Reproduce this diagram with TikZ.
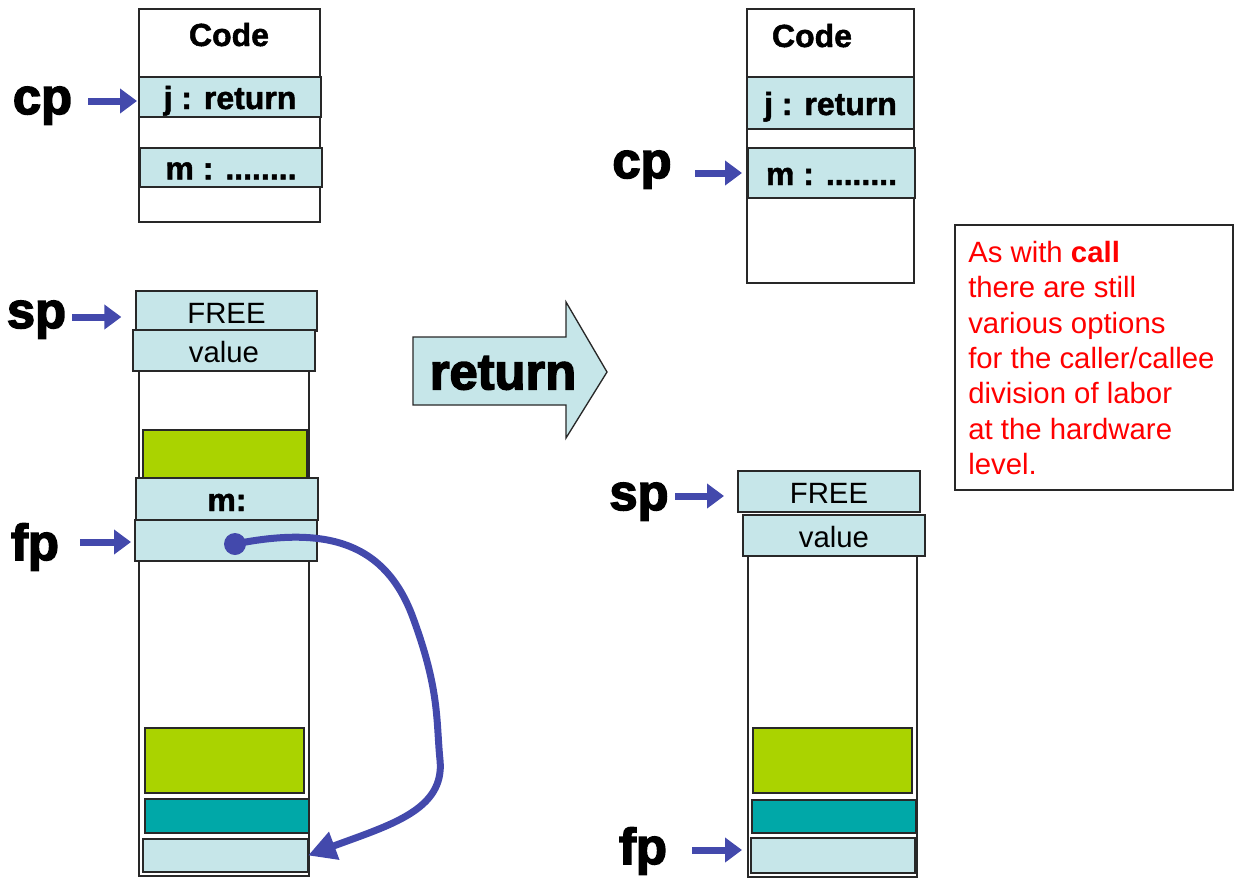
\documentclass[tikz,border=0pt]{standalone}
\usepackage{fontspec}
\setmainfont{Liberation Sans}
\newfontfamily\heavyA[BoldFeatures={FakeBold=3}]{Liberation Sans}
\newfontfamily\heavyB[BoldFeatures={FakeBold=1.5}]{Liberation Sans}
\usetikzlibrary{arrows.meta}
\definecolor{cellc}{RGB}{198,230,233}
\definecolor{grn}{RGB}{170,211,0}
\definecolor{tealc}{RGB}{0,168,168}
\definecolor{ptrc}{RGB}{67,73,172}
\definecolor{edgec}{RGB}{40,40,40}
\newcommand\cellbox[7]{\node[#1, minimum width={(#4-#2)*0.75pt}, minimum height={(#5-#3)*0.75pt}] (#6) at ({(#2+#4)/2},{(#3+#5)/2}) {#7};}
\tikzset{
  box/.style={draw=edgec, line width=1.1pt, inner sep=0pt, outer sep=0pt, fill=white},
  cell/.style={box, fill=cellc},
  grbox/.style={box, fill=grn},
  tlbox/.style={box, fill=tealc},
  lbl/.style={font=\heavyA\bfseries\fontsize{38}{38}\selectfont, inner sep=0pt, anchor=base},
  ctext/.style={font=\heavyB\bfseries\fontsize{24}{24}\selectfont, text height=18pt, text depth=0pt},
  rtext/.style={font=\fontsize{22}{22}\selectfont, text height=18.5pt, text depth=0pt},
  ptr/.style={draw=ptrc, line width=5.25pt, -{Triangle[length=12.75pt,width=18pt]}},
}
\begin{document}
\begin{tikzpicture}[x=0.75pt,y=-0.75pt]
\useasboundingbox (0,0) rectangle (1234,878);
% ---------- left code ----------
\cellbox{box}{139}{9}{320}{222}{codeL}{}
\node[ctext] (codeLt) at (229,34) {Code};
\cellbox{cell,ctext}{139}{77}{321}{117}{jL}{j : return}
\cellbox{cell,ctext}{140}{148}{322}{187}{mL}{m : ........}
% ---------- left stack ----------
\cellbox{box}{139}{331}{309}{876}{colL}{}
\cellbox{cell,rtext}{136}{291}{317}{331}{freeL}{FREE}
\cellbox{cell,rtext}{133}{330}{315}{371}{valL}{value}
\cellbox{grbox}{143}{430}{307}{478}{g1L}{}
\cellbox{cell,ctext}{136}{478}{318}{520}{mcL}{m:}
\cellbox{cell}{135}{520}{317}{561}{fpcL}{}
\cellbox{grbox}{145}{728}{304}{793}{g2L}{}
\cellbox{tlbox}{145}{799}{309}{833}{tL}{}
\cellbox{cell}{143}{839}{308}{872}{bL}{}
% ---------- right code ----------
\cellbox{box}{747}{9}{914}{283}{codeR}{}
\node[ctext] (codeRt) at (812,35) {Code};
\cellbox{cell,ctext}{747}{77}{914}{129}{jR}{j : return}
\cellbox{cell,ctext}{748}{148}{915}{198}{mR}{m : ........}
% ---------- right stack ----------
\cellbox{box}{748}{556}{917}{877}{colR}{}
\cellbox{cell,rtext}{738}{471}{920}{512}{freeR}{FREE}
\cellbox{cell,rtext}{743}{515}{925}{556}{valR}{value}
\cellbox{grbox}{753}{728}{912}{793}{g1R}{}
\cellbox{tlbox}{752}{800}{916}{833}{tR}{}
\cellbox{cell}{751}{838}{915}{873}{bR}{}
% ---------- labels ----------
\node[lbl] (cpL) at (42.5,114) {cp};
\node[lbl] (spL) at (36.5,328) {sp};
\node[lbl] (fpL) at (35,560) {fp};
\node[lbl] (cpR) at (642,178) {cp};
\node[lbl] (spR) at (639,510) {sp};
\node[lbl] (fpR) at (643,864) {fp};
\coordinate (cpLs) at (88,101);
\coordinate (spLs) at (72,317);
\coordinate (fpLs) at (80,542);
\coordinate (cpRs) at (695,173);
\coordinate (spRs) at (675,496);
\coordinate (fpRs) at (692,850);
\draw[ptr, shorten >=1.5pt] (cpLs) -- (cpLs -| jL.west);
\draw[ptr, shorten >=11pt] (spLs) -- (spLs -| freeL.west);
\draw[ptr, shorten >=3pt] (fpLs) -- (fpLs -| fpcL.west);
\draw[ptr, shorten >=4.5pt] (cpRs) -- (cpRs -| mR.west);
\draw[ptr, shorten >=10.5pt] (spRs) -- (spRs -| freeR.west);
\draw[ptr, shorten >=6.75pt] (fpRs) -- (fpRs -| bR.west);
% ---------- fp link ----------
\node[circle, fill=ptrc, inner sep=0pt, minimum size=16.5pt] (dot) at (235,544) {};
\draw[draw=ptrc, line width=5.25pt, -{Triangle[length=21pt,width=21pt]}]
  (dot.center) .. controls (330,525) and (385,545) .. (412,615)
  .. controls (440,690) and (436,720) .. (440,760)
  .. controls (445,810) and (390,825) .. (bL.east);
% ---------- big arrow ----------
\draw[draw=edgec, line width=1pt, fill=cellc]
  (413,337) -- (566,337) -- (566,302) -- (607,372) -- (566,438) -- (566,405) -- (413,405) -- cycle;
\node[font=\heavyA\bfseries\fontsize{38}{38}\selectfont] (ret) at (503,373) {return};
% ---------- note ----------
\cellbox{box}{955}{225}{1233}{490}{note}{}
\node[anchor=north west, inner sep=0pt, align=left, text=red,
      font=\fontsize{22}{26.5}\selectfont] (notet) at (968,241)
  {As with \textbf{call}\\there are still\\various options\\for the caller/callee\\division of labor\\at the hardware\\level.};
\end{tikzpicture}
\end{document}
